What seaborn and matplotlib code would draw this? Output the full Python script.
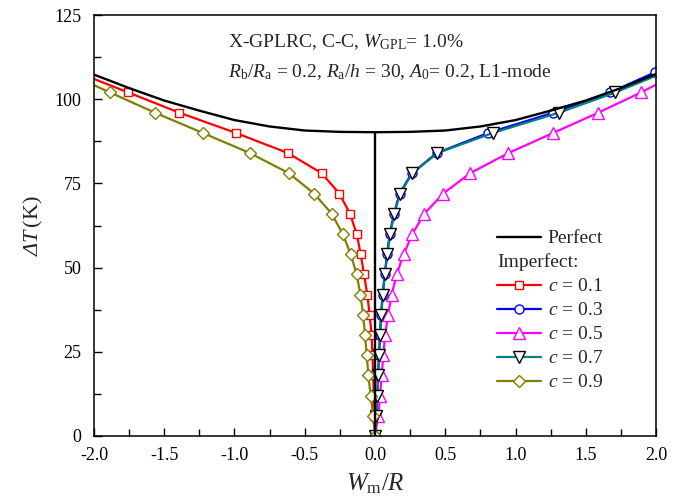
import matplotlib
matplotlib.use("Agg")
import matplotlib.pyplot as plt
import seaborn as sns
from matplotlib.lines import Line2D
from matplotlib.legend_handler import HandlerBase
from matplotlib.text import Text
from matplotlib.ticker import MultipleLocator, FormatStrFormatter

# ---------------- data ----------------
dT = [0, 6, 12, 18, 24, 30, 36, 42, 48, 54, 60, 66, 72, 78, 84, 90, 96, 102, 108]

x_c01 = [0.0, -0.004, -0.008, -0.013, -0.018, -0.024, -0.038, -0.055, -0.078, -0.102,
         -0.130, -0.178, -0.254, -0.379, -0.619, -0.991, -1.393, -1.756, -2.12]
x_c03 = [0.0, 0.009, 0.016, 0.022, 0.028, 0.035, 0.043, 0.054, 0.069, 0.086,
         0.105, 0.135, 0.175, 0.262, 0.439, 0.807, 1.269, 1.673, 1.993]
x_c05 = [0.0, 0.024, 0.036, 0.048, 0.059, 0.072, 0.093, 0.119, 0.154, 0.204,
         0.266, 0.351, 0.486, 0.676, 0.949, 1.269, 1.589, 1.893, 2.17]
x_c07 = [0.0, 0.010, 0.017, 0.023, 0.029, 0.037, 0.045, 0.056, 0.071, 0.088,
         0.107, 0.138, 0.178, 0.266, 0.444, 0.840, 1.310, 1.710, 2.06]
x_c09 = [0.0, -0.012, -0.031, -0.047, -0.059, -0.071, -0.084, -0.104, -0.130, -0.173,
         -0.230, -0.308, -0.434, -0.612, -0.890, -1.227, -1.566, -1.886, -2.2]

# perfect plate: left branch, trivial path (x = 0), right branch
perf_left_x = [-2.0, -1.75, -1.5, -1.25, -1.0, -0.75, -0.5, -0.25, 0.0]
perf_left_dT = [107.3, 103.3, 99.6, 96.6, 93.8, 91.9, 90.7, 90.3, 90.2]
perf_trivial_x = [0.0, 0.0]
perf_trivial_dT = [0.0, 90.2]
perf_right_x = [0.0, 0.25, 0.5, 0.75, 1.0, 1.25, 1.5, 1.75, 2.0]
perf_right_dT = [90.2, 90.3, 90.7, 91.9, 93.8, 96.6, 99.6, 103.3, 107.5]

c_labels = ["0.1", "0.3", "0.5", "0.7", "0.9"]

# ---------------- style ----------------
sns.set_theme(style="ticks")
plt.rcParams['font.family'] = ['Liberation Serif', 'DejaVu Serif']
plt.rcParams['mathtext.fontset'] = 'custom'
plt.rcParams['mathtext.rm'] = 'Liberation Serif'
plt.rcParams['mathtext.it'] = 'Liberation Serif:italic'
plt.rcParams['mathtext.sf'] = 'Liberation Serif:italic'
plt.rcParams['mathtext.bf'] = 'Liberation Serif:bold'
plt.rcParams['axes.unicode_minus'] = False

fig = plt.figure(figsize=(6.83, 5.0), dpi=100)
ax = fig.add_axes([0.1376, 0.128, 0.8229, 0.842])

series = [
    (x_c01, "#FF0000", "s", 6.0, "#FF0000"),
    (x_c03, "#0000FF", "o", 6.5, "#0000FF"),
    (x_c05, "#FF00FF", "^", 8.0, "#FF00FF"),
    (x_c07, "#008080", "v", 8.0, "#000000"),
    (x_c09, "#808000", "D", 6.5, "#808000"),
]

handles = []
for (xs, col, mk, ms, mec), lab in zip(series, c_labels):
    sns.lineplot(x=xs, y=dT, sort=False, estimator=None, ax=ax, color=col,
                 linewidth=1.6, marker=mk, markersize=ms, markerfacecolor="white",
                 markeredgecolor=mec, markeredgewidth=1.0, legend=False)
    handles.append((Line2D([], [], color=col, linewidth=1.6, marker=mk, markersize=ms,
                           markerfacecolor="white", markeredgecolor=mec,
                           markeredgewidth=1.0), r"$c$ = " + lab))

for px, py in [(perf_left_x, perf_left_dT), (perf_trivial_x, perf_trivial_dT),
               (perf_right_x, perf_right_dT)]:
    sns.lineplot(x=px, y=py, sort=False, estimator=None, ax=ax, color="black",
                 linewidth=1.7, legend=False)

ax.set_xlim(-2.0, 2.0)
ax.set_ylim(0, 125)
ax.xaxis.set_major_locator(MultipleLocator(0.5))
ax.xaxis.set_minor_locator(MultipleLocator(0.25))
ax.xaxis.set_major_formatter(FormatStrFormatter("%.1f"))
ax.yaxis.set_major_locator(MultipleLocator(25))
ax.yaxis.set_minor_locator(MultipleLocator(12.5))
ax.tick_params(which="both", direction="in", top=False, right=False, width=1.0,
               labelsize=13, colors="black")
ax.tick_params(which="major", length=6)
ax.tick_params(which="minor", length=5)
ax.tick_params(axis="x", pad=8)
ax.tick_params(axis="y", pad=9)
for s in ax.spines.values():
    s.set_visible(True)
    s.set_linewidth(1.1)
    s.set_color("black")

ax.set_xlabel(r"$W_{\rm m}/R$", fontsize=18, labelpad=5)
ax.set_ylabel(r"$\mathsf{Δ}\mathit{T}\,$(K)", fontsize=16, labelpad=7)

ax.text(0.238, 0.936, r"X-GPLRC, C-C, $W_{\rm GPL}$= 1.0%", transform=ax.transAxes,
        fontsize=14, ha="left", va="center")
ax.text(0.238, 0.865, r"$R_{\rm b}/R_{\rm a}$ = 0.2, $R_{\rm a}/h$ = 30, $A_{\rm 0}$= 0.2, L1-mode",
        transform=ax.transAxes, fontsize=14, ha="left", va="center")


# ---------------- legend ----------------
class Imperfect:
    pass


class TextHandler(HandlerBase):
    def create_artists(self, legend, orig_handle, xdescent, ydescent, width, height,
                       fontsize, trans):
        t = Text(-xdescent, -ydescent, "Imperfect:", fontsize=fontsize,
                 ha="left", va="baseline", transform=trans,
                 family=['Liberation Serif', 'DejaVu Serif'])
        return [t]


leg_handles = [Line2D([], [], color="black", linewidth=1.7), Imperfect()] + [h for h, _ in handles]
leg_labels = ["Perfect", " "] + [l for _, l in handles]
leg = ax.legend(leg_handles, leg_labels, handler_map={Imperfect: TextHandler()},
                loc="upper left", bbox_to_anchor=(0.717, 0.49), frameon=False,
                fontsize=14, handlelength=2.25, handletextpad=0.35, labelspacing=0.33,
                borderpad=0, borderaxespad=0, numpoints=1)

fig.savefig("out.png", dpi=100)
